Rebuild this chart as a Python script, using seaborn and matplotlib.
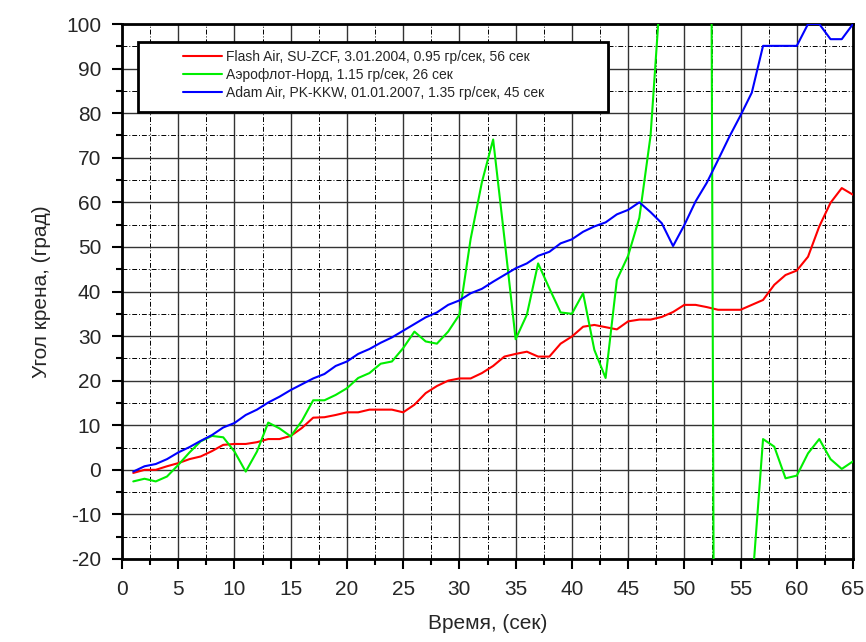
import pandas as pd
import matplotlib
matplotlib.use("Agg")
import matplotlib.pyplot as plt
from matplotlib.patches import Rectangle
from matplotlib.lines import Line2D
from matplotlib.ticker import MultipleLocator
import seaborn as sns

# time, seconds
time_s = list(range(1, 66))

# bank angle, degrees
flash_air = [-0.7, 0, 0, 0.8, 1.5, 2.4, 3, 4.2, 5.6, 5.8,
             5.8, 6.2, 6.9, 6.9, 7.6, 9.4, 11.7, 11.8, 12.3, 12.9,
             12.9, 13.5, 13.5, 13.5, 12.9, 14.6, 17.2, 18.8, 20, 20.5,
             20.5, 21.7, 23.3, 25.4, 26, 26.5, 25.4, 25.4, 28.3, 29.9,
             32.1, 32.5, 32, 31.5, 33.3, 33.7, 33.7, 34.3, 35.4, 37,
             37, 36.5, 35.9, 35.9, 35.9, 37, 38.1, 41.5, 43.7, 44.7,
             47.8, 54.6, 59.9, 63.2, 61.7]

aeroflot_nord = [-2.6, -2, -2.6, -1.5, 1.1, 3.9, 6.4, 7.6, 7.3, 4.1,
                 -0.4, 4.1, 10.6, 9.3, 7.5, 11, 15.6, 15.6, 16.8, 18.3,
                 20.6, 21.7, 23.8, 24.3, 27.3, 31, 28.8, 28.3, 31, 34.8,
                 51.8, 64.5, 74.1, 52, 29.3, 34.8, 46.3, 40.7, 35.3, 35,
                 39.6, 26.9, 20.6, 42.6, 48, 56.5, 75, 112, 150, 200,
                 280, 400, -300, -200, -100, -27, 6.9, 5.2, -1.9, -1.3,
                 3.7, 6.9, 2.4, 0.2, 1.9]

adam_air = [-0.4, 0.8, 1.3, 2.4, 3.9, 5.1, 6.5, 7.8, 9.5, 10.5,
            12.3, 13.5, 15.1, 16.4, 17.9, 19.2, 20.5, 21.5, 23.3, 24.3,
            26, 27.1, 28.5, 29.7, 31.2, 32.7, 34.2, 35.3, 37, 38,
            39.6, 40.6, 42.2, 43.7, 45.2, 46.3, 48, 48.9, 50.8, 51.7,
            53.4, 54.6, 55.5, 57.3, 58.3, 60, 57.8, 55.3, 50.2, 54.9,
            60.2, 64.4, 69.5, 74.7, 79.5, 84.6, 95.1, 95.1, 95.1, 95.1,
            100, 100, 96.6, 96.6, 100]

labels = ["Flash Air, SU-ZCF, 3.01.2004, 0.95 гр/сек, 56 сек",
          "Аэрофлот-Норд, 1.15 гр/сек, 26 сек",
          "Adam Air, PK-KKW, 01.01.2007, 1.35 гр/сек, 45 сек"]
colors = ["#ff0000", "#00ee00", "#0000ff"]

df = pd.concat([
    pd.DataFrame({"t": time_s, "angle": vals, "flight": lab})
    for vals, lab in zip([flash_air, aeroflot_nord, adam_air], labels)
])

sns.set_style("white")
plt.rcParams["font.family"] = ["Liberation Sans", "DejaVu Sans"]
plt.rcParams["axes.unicode_minus"] = False

fig = plt.figure(figsize=(8.66, 6.42), dpi=100)
ax = fig.add_axes([0.1409, 0.1293, 0.8441, 0.8333])

sns.lineplot(data=df, x="t", y="angle", hue="flight", hue_order=labels,
             palette=colors, linewidth=1.5, estimator=None, sort=False,
             legend=False, ax=ax, zorder=3)

ax.set_xlim(0, 65)
ax.set_ylim(-20, 100)
ax.xaxis.set_major_locator(MultipleLocator(5))
ax.xaxis.set_minor_locator(MultipleLocator(2.5))
ax.yaxis.set_major_locator(MultipleLocator(10))
ax.yaxis.set_minor_locator(MultipleLocator(5))

ax.grid(which="major", color="#333333", lw=1.0, ls="-", zorder=1)
ax.grid(which="minor", color="black", lw=0.7, ls=(0, (5, 2, 1, 2)), zorder=1)
ax.set_axisbelow(True)

ax.tick_params(which="both", bottom=True, left=True, direction="out",
               width=1.5, color="black")
ax.tick_params(which="major", length=7, labelsize=15)
ax.tick_params(which="minor", length=4)
ax.tick_params(axis="y", which="major", pad=8)
ax.tick_params(axis="x", which="major", pad=8)

for sp in ax.spines.values():
    sp.set_linewidth(2)
    sp.set_color("black")

ax.set_xlabel("Время, (сек)", fontsize=15, labelpad=11)
ax.set_ylabel("Угол крена, (град)", fontsize=15, labelpad=11)

# legend box with a light shadow
ax.add_patch(Rectangle((0.025, 0.832), 0.643, 0.13, transform=ax.transAxes,
                       facecolor="#999999", edgecolor="none", zorder=4))
ax.add_patch(Rectangle((0.022, 0.836), 0.643, 0.13, transform=ax.transAxes,
                       facecolor="white", edgecolor="black", lw=2, zorder=5))
handles = [Line2D([], [], color=c, lw=1.5) for c in colors]
leg = ax.legend(handles, labels, loc="upper left", bbox_to_anchor=(0.083, 0.952),
                frameon=False, fontsize=10, handlelength=2.8, handletextpad=0.3,
                labelspacing=0.3, borderpad=0, borderaxespad=0)
leg.set_zorder(6)

plt.savefig("out.png", dpi=100)
